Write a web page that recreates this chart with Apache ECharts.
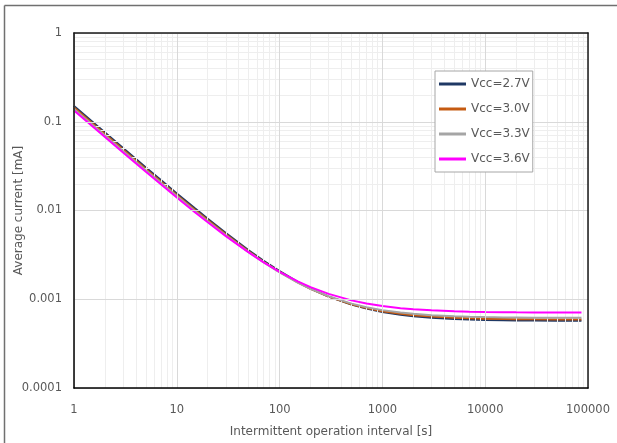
<!DOCTYPE html>
<html>
<head>
<meta charset="utf-8">
<script src="https://cdn.jsdelivr.net/npm/echarts@6/dist/echarts.min.js"></script>
<style>
html,body{margin:0;padding:0;background:#fff;}
#c{width:617px;height:443px;}
</style>
</head>
<body>
<div id="c"></div>
<script>
// Intermittent operation interval [s]
var intervals = [1, 2, 3, 5, 7, 10, 15, 20, 30, 50, 70, 100, 150, 200, 300, 500, 700, 1000, 1500, 2000, 3000, 5000, 7000, 10000, 15000, 20000, 30000, 50000, 86400];
// Average current [mA]
var vcc27 = [0.1506, 0.07557, 0.05057, 0.03057, 0.0220, 0.01557, 0.01057, 0.00807, 0.00557, 0.00357, 0.002713, 0.00207, 0.00157, 0.00132, 0.00107, 0.00087, 0.000784, 0.00072, 0.00067, 0.000645, 0.00062, 0.0006, 0.000591, 0.000585, 0.00058, 0.000578, 0.000575, 0.000573, 0.000572];
var vcc30 = [0.1446, 0.07259, 0.04859, 0.02939, 0.02116, 0.01499, 0.01019, 0.00779, 0.00539, 0.00347, 0.002647, 0.00203, 0.00155, 0.00131, 0.00107, 0.000878, 0.000796, 0.000734, 0.000686, 0.000662, 0.000638, 0.000619, 0.000611, 0.000604, 0.0006, 0.000597, 0.000595, 0.000593, 0.000592];
var vcc33 = [0.1396, 0.0701, 0.04695, 0.02842, 0.02047, 0.01452, 0.00988, 0.00757, 0.00525, 0.0034, 0.0026, 0.002005, 0.00154, 0.00131, 0.00108, 0.000893, 0.000814, 0.000754, 0.000708, 0.000685, 0.000661, 0.000643, 0.000635, 0.000629, 0.000624, 0.000622, 0.00062, 0.000618, 0.000617];
var vcc36 = [0.1337, 0.0672, 0.04504, 0.0273, 0.01971, 0.01401, 0.00957, 0.00736, 0.00514, 0.00337, 0.0026, 0.002035, 0.00159, 0.00137, 0.00115, 0.000971, 0.000895, 0.000838, 0.000794, 0.000772, 0.00075, 0.000732, 0.000724, 0.000718, 0.000714, 0.000712, 0.00071, 0.000708, 0.000707];

var seriesNames = ['Vcc=2.7V', 'Vcc=3.0V', 'Vcc=3.3V', 'Vcc=3.6V'];
var seriesColors = ['#1f3864', '#c55a11', '#a5a5a5', '#ff00ff'];
var seriesValues = [vcc27, vcc30, vcc33, vcc36];

var xTickValues = [1, 10, 100, 1000, 10000, 100000];
var xTickLabels = ['1', '10', '100', '1000', '10000', '100000'];
var yTickValues = [0.0001, 0.001, 0.01, 0.1, 1];
var yTickLabels = ['0.0001', '0.001', '0.01', '0.1', '1'];

function tickLabel(vals, labels) {
  return function (v) {
    for (var i = 0; i < vals.length; i++) {
      if (Math.abs(Math.log10(v) - Math.log10(vals[i])) < 1e-6) return labels[i];
    }
    return '';
  };
}

// minor grid line positions (2..9 within each decade)
var minorLines = [];
for (var d = 0; d < 5; d++) {
  for (var k = 2; k <= 9; k++) minorLines.push({ xAxis: k * Math.pow(10, d) });
}
for (var d2 = -4; d2 < 0; d2++) {
  for (var k2 = 2; k2 <= 9; k2++) minorLines.push({ yAxis: +(k2 * Math.pow(10, d2)).toPrecision(3) });
}

var FONT = 'DejaVu Sans';
var TXT = '#595959';

var series = [{
  name: 'minor-grid',
  type: 'line',
  data: [[1, 1]],
  symbol: 'none',
  silent: true,
  z: 1,
  lineStyle: { width: 0 },
  markLine: {
    silent: true,
    symbol: ['none', 'none'],
    label: { show: false },
    animation: false,
    lineStyle: { color: '#eeeeee', type: 'solid', width: 1 },
    emphasis: { disabled: true },
    data: minorLines
  }
}];
for (var s = 0; s < seriesNames.length; s++) {
  series.push({
    name: seriesNames[s],
    type: 'line',
    symbol: 'none',
    showSymbol: false,
    z: 3 + s,
    color: seriesColors[s],
    lineStyle: { width: 2, color: seriesColors[s] },
    data: intervals.map(function (x, i) { return [x, this[i]]; }, seriesValues[s])
  });
}

var frameAxis = {
  axisLine: { show: true, lineStyle: { color: '#1a1a1a', width: 1.5 } },
  axisTick: { show: false },
  axisLabel: { show: false },
  splitLine: { show: false },
  z: 20
};

var chart = echarts.init(document.getElementById('c'), null, { renderer: 'canvas' });
chart.setOption({
  animation: false,
  backgroundColor: '#ffffff',
  textStyle: { fontFamily: FONT },
  graphic: [
    { type: 'line', shape: { x1: 4.5, y1: 5.5, x2: 640, y2: 5.5 }, style: { stroke: '#707070', lineWidth: 1.5 }, silent: true, z: 100 },
    { type: 'line', shape: { x1: 4.5, y1: 5.5, x2: 4.5, y2: 460 }, style: { stroke: '#707070', lineWidth: 1.5 }, silent: true, z: 100 }
  ],
  grid: {
    left: 74, top: 33, right: 29, bottom: 55,
    show: true, borderColor: '#ffffff', borderWidth: 0, backgroundColor: '#fff'
  },
  legend: {
    data: seriesNames,
    orient: 'vertical',
    left: 435, top: 71,
    padding: [6, 3, 6, 4],
    itemGap: 11,
    itemWidth: 27,
    itemHeight: 3,
    icon: 'rect',
    backgroundColor: '#fff',
    borderColor: '#a6a6a6',
    borderWidth: 1,
    borderRadius: 0,
    textStyle: { fontFamily: FONT, fontSize: 12, color: TXT, lineHeight: 14 },
    z: 30
  },
  xAxis: [{
    type: 'log', logBase: 10, min: 1, max: 100000,
    name: 'Intermittent operation interval [s]',
    nameLocation: 'middle', nameGap: 38, nameMoveOverlap: false,
    nameTextStyle: { fontFamily: FONT, fontSize: 12, color: TXT },
    axisLine: { show: true, lineStyle: { color: '#000', width: 1.5 } },
    axisTick: { show: false },
    axisLabel: { margin: 16, fontFamily: FONT, fontSize: 11.5, color: TXT, formatter: tickLabel(xTickValues, xTickLabels) },
    splitLine: { show: true, lineStyle: { color: '#d9d9d9', width: 1 } },
    minorTick: { show: false },
    minorSplitLine: { show: false },
    z: 20
  }, Object.assign({ type: 'log', logBase: 10, min: 1, max: 100000, position: 'top' }, frameAxis)],
  yAxis: [{
    type: 'log', logBase: 10, min: 0.0001, max: 1,
    name: 'Average current [mA]',
    nameLocation: 'middle', nameGap: 49, nameMoveOverlap: false,
    nameTextStyle: { fontFamily: FONT, fontSize: 12, color: TXT },
    axisLine: { show: true, lineStyle: { color: '#000', width: 1.5 } },
    axisTick: { show: false },
    axisLabel: { margin: 12, fontFamily: FONT, fontSize: 11.5, color: TXT, formatter: tickLabel(yTickValues, yTickLabels) },
    splitLine: { show: true, lineStyle: { color: '#d9d9d9', width: 1 } },
    minorTick: { show: false },
    minorSplitLine: { show: false },
    z: 20
  }, Object.assign({ type: 'log', logBase: 10, min: 0.0001, max: 1, position: 'right' }, frameAxis)],
  series: series
});
</script>
</body>
</html>
